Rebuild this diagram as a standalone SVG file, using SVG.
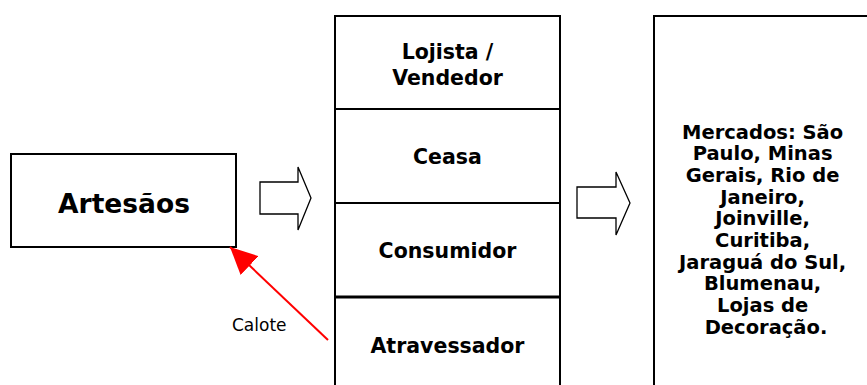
<svg xmlns="http://www.w3.org/2000/svg" width="867" height="385" viewBox="0 0 867 385">
<style>
.box{fill:#fff;stroke:#000;stroke-width:2}
.t{font-family:"DejaVu Sans",Verdana,sans-serif;font-weight:bold;fill:#000;text-anchor:middle}
.blk{fill:#fff;stroke:#000;stroke-width:1.3;stroke-linejoin:miter}
</style>
<defs>
<marker id="red" markerUnits="userSpaceOnUse" markerWidth="28" markerHeight="26" refX="27" refY="13" orient="auto">
<path d="M0,0 L27,13 L0,26 Z" fill="#f00"/>
</marker>
</defs>
<rect width="867" height="385" fill="#fff"/>
<g id="artesaos">
<rect class="box" x="11" y="154" width="225" height="93"/>
<text class="t" x="124" y="213" font-size="26.5">Artesãos</text>
</g>
<g id="intermediarios">
<rect class="box" x="335" y="16" width="225" height="380"/>
<line x1="335" y1="109" x2="560" y2="109" stroke="#000" stroke-width="2"/>
<line x1="335" y1="203" x2="560" y2="203" stroke="#000" stroke-width="2"/>
<line x1="335" y1="297" x2="560" y2="297" stroke="#000" stroke-width="3"/>
<text class="t" x="447.5" y="59" font-size="20.5">Lojista /</text>
<text class="t" x="447.5" y="85" font-size="20.5">Vendedor</text>
<text class="t" x="447.5" y="164" font-size="20.5">Ceasa</text>
<text class="t" x="447.5" y="258" font-size="20.5">Consumidor</text>
<text class="t" x="447.5" y="353" font-size="20.5">Atravessador</text>
</g>
<g id="mercados">
<rect class="box" x="654" y="16" width="230" height="380"/>
<text class="t" font-size="19.5">
<tspan x="766" y="138.5">Mercados: São</tspan>
<tspan x="766" y="160.2">Paulo, Minas</tspan>
<tspan x="766" y="181.9">Gerais, Rio de</tspan>
<tspan x="766" y="203.6">Janeiro,</tspan>
<tspan x="766" y="225.3">Joinville,</tspan>
<tspan x="766" y="247">Curitiba,</tspan>
<tspan x="766" y="268.7">Jaraguá do Sul,</tspan>
<tspan x="766" y="290.4">Blumenau,</tspan>
<tspan x="766" y="312.1">Lojas de</tspan>
<tspan x="766" y="333.8">Decoração.</tspan>
</text>
</g>
<g id="connectors">
<path class="blk" d="M260,182 L298,182 L298,167 L311,198 L298,230 L298,214 L260,214 Z"/>
<path class="blk" d="M577,187 L616,187 L616,172 L630,203 L616,235 L616,218 L577,218 Z"/>
<line x1="328" y1="340" x2="230" y2="247" stroke="#f00" stroke-width="2" marker-end="url(#red)"/>
<text x="232" y="331" font-family="DejaVu Sans,Verdana,sans-serif" font-size="17" fill="#000">Calote</text>
</g>
</svg>
